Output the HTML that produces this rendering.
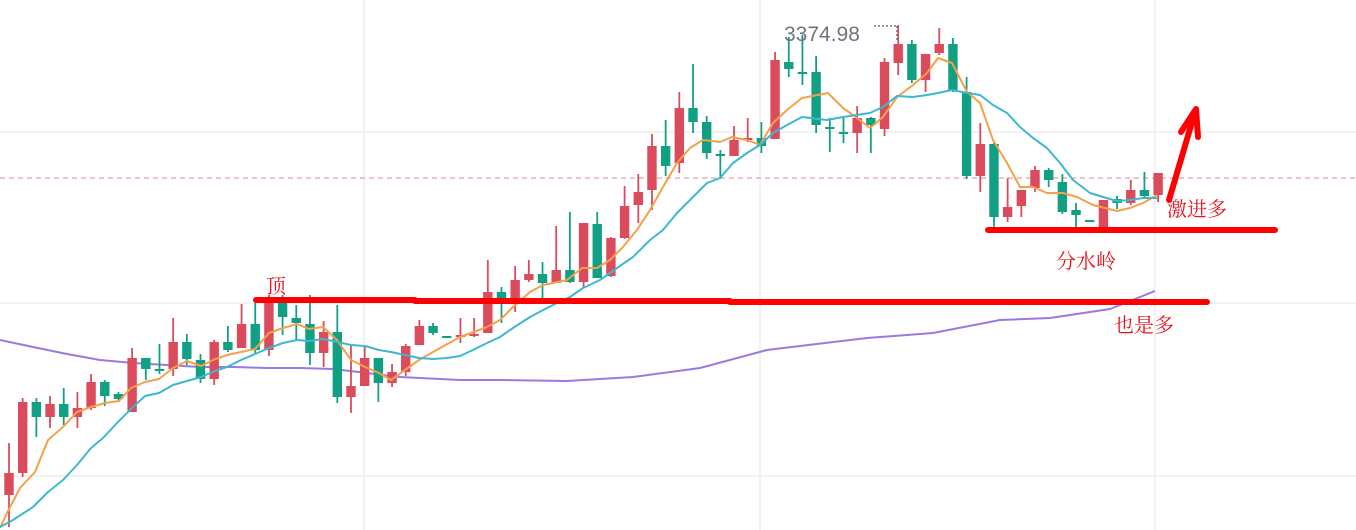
<!DOCTYPE html>
<html><head><meta charset="utf-8"><style>
html,body{margin:0;padding:0;background:#fff;}
svg{display:block}
.t{font-family:"Noto Serif CJK SC","Liberation Serif",serif;fill:#e8101c;font-size:20px}
</style></head><body>
<svg id="s" width="1356" height="530" viewBox="0 0 1356 530" xmlns="http://www.w3.org/2000/svg">
<g stroke="#eeeef2" stroke-width="1.5">
<line x1="0" y1="132" x2="1356" y2="132"/>
<line x1="0" y1="303" x2="1356" y2="303"/>
<line x1="0" y1="476" x2="1356" y2="476"/>
<line x1="364" y1="0" x2="364" y2="530"/>
<line x1="760" y1="0" x2="760" y2="530"/>
<line x1="1155" y1="0" x2="1155" y2="530"/>
</g>
<line x1="0" y1="178" x2="1356" y2="178" stroke="#d98a92" stroke-width="1" stroke-dasharray="5,4"/>
<polyline fill="none" stroke="#9b79e0" stroke-width="2" stroke-linejoin="round" points="0,340 33,347 67,354 100,360 133,363 167,365 200,367 233,367 267,368 300,368 333,369 367,373 400,377 460,380 500,380 567,381 633,377 700,368 767,350 800,346 867,338 933,333 1000,320 1050,318 1110,309 1155,291"/>
<g id="c"></g>
<polyline fill="none" stroke="#f5a04a" stroke-width="2" stroke-linejoin="round" points="0,528 7,513 20,488 35,472 48,440 63,427 77,412 91,407 105,403 119,401 131,388 145,382 159,379 173,368 187,361 201,366 213,360 227,355 241,352 255,349 269,333 283,328 297,324 309,329 323,327 337,340 351,360 365,367 379,373 391,380 405,370 419,360 433,352 460,337 487,327 500,320 513,307 530,292 543,285 567,280 582,268 597,268 610,260 623,247 637,230 650,210 663,187 677,163 690,148 703,140 720,142 732,137 747,140 760,145 773,123 787,110 802,98 828,93 843,108 857,118 870,128 883,117 897,97 913,85 927,73 938,58 952,63 967,92 980,103 993,140 1007,163 1020,187 1033,187 1047,193 1063,193 1077,197 1093,205 1117,211 1130,208 1143,203 1157,195"/>
<polyline fill="none" stroke="#3db8d0" stroke-width="2" stroke-linejoin="round" points="0,527 13,520 33,507 48,492 63,480 77,465 91,448 103,438 117,423 132,408 145,396 159,393 173,385 187,381 201,377 215,371 227,367 241,360 255,354 269,348 283,343 297,340 309,341 323,339 333,341 351,345 365,346 379,350 391,352 405,355 419,358 433,359 447,358 460,356 473,350 487,343 500,337 513,328 530,317 547,308 557,303 570,297 583,288 600,280 617,268 633,257 650,240 663,230 677,213 690,200 707,183 720,178 733,163 747,153 760,145 773,133 787,125 802,117 827,120 843,117 870,113 883,107 897,96 913,97 927,95 938,93 952,90 967,93 980,95 993,105 1007,113 1020,127 1033,138 1047,148 1060,163 1073,180 1090,193 1103,197 1117,201 1130,200 1143,198 1157,198"/>
<g stroke="#f00" stroke-width="6" stroke-linecap="round" fill="none">
<line x1="256" y1="300" x2="415" y2="300"/>
<line x1="415" y1="301" x2="730" y2="301"/>
<line x1="730" y1="302" x2="1207" y2="302"/>
<line x1="988" y1="230" x2="1275" y2="230"/>
<line x1="1169" y1="200" x2="1195" y2="112"/>
<polyline points="1181,132 1196,109 1198,137" stroke-linejoin="round"/>
</g>
<text class="t" x="266" y="293">顶</text>
<text class="t" x="1056" y="268">分水岭</text>
<text class="t" x="1167" y="216">激进多</text>
<text class="t" x="1114" y="332">也是多</text>
<text x="784" y="41" font-family="Liberation Sans, sans-serif" font-size="21" fill="#6e7480">3374.98</text>
<line x1="874" y1="26" x2="898" y2="26" stroke="#6e7480" stroke-width="1.5" stroke-dasharray="2,2"/>
<line x1="897" y1="26" x2="897" y2="40" stroke="#6e7480" stroke-width="1.5" stroke-dasharray="2,2"/>
</svg>
<script>
var R='#dc4b5b',G='#12a085';
var d=[
[473,495,443,527,R],[402,473,398,477,R],[402,417,398,437,G],[404,417,396,428,R],[404,417,388,425,G],[408,417,392,428,R],[382,408,374,410,R],[382,396,380,406,G],[394,399,392,400,G],[358,412,348,412,R],
[358,369,358,380,G],[369,371,344,374,G],[342,369,318,376,R],[342,359,334,365,G],[360,379,354,383,G],[342,379,340,385,R],[342,350,326,352,G],[324,348,304,348,R],[324,350,303,354,G],[303,350,295,356,R],
[303,317,295,335,G],[318,323,305,341,G],[324,353,295,365,G],[332,353,321,367,R],[332,397,305,403,G],[386,397,345,413,R],[358,386,347,386,R],[358,383,358,402,G],[372,383,364,387,R],[346,372,344,376,R],
[326,345,320,345,R],[326,333,323,335,G],[336,338,336,338,G],[335,337,318,343,R],[334,336,318,337,R],[292,333,260,333,R],[292,298,287,323,G],[280,298,266,312,R],[274,280,260,282,R],[274,283,262,298,G],
[270,283,226,283,R],[270,282,212,283,G],[223,282,223,287,R],[224,278,212,278,G],[238,276,237,277,R],[206,238,186,239,R],[192,205,174,223,R],[146,190,134,210,R],[146,166,120,176,G],[108,163,92,173,R],
[108,122,64,133,G],[122,153,116,159,G],[154,156,150,179,G],[140,156,126,156,R],[138,140,118,142,R],[138,146,122,153,G],[60,139,52,139,R],[62,69,37,77,G],[72,73,35,85,G],[72,125,56,133,G],
[127,128,118,152,G],[132,133,118,143,G],[118,133,106,153,R],[118,125,117,153,G],[62,129,58,136,R],[44,63,25,75,R],[44,80,40,83,G],[54,80,54,92,R],[44,53,28,55,R],[44,90,38,92,G],
[92,176,77,179,G],[144,176,123,192,R],[144,217,143,228,G],[207,217,178,222,R],[190,206,190,217,R],[170,188,166,192,R],[170,180,168,187,G],[182,212,174,214,G],[210,215,203,227,G],[220,221,220,221,G],
[200,227,200,230,R],[199,203,196,209,G],[190,203,180,205,R],[190,196,172,197,G],[173,195,173,202,R]];
var s='';
d.forEach(function(c,i){var x=9+i*13.68;var h=Math.max(c[1]-c[0],2);
s+='<line x1="'+x+'" y1="'+c[2]+'" x2="'+x+'" y2="'+c[3]+'" stroke="'+c[4]+'" stroke-width="1.8"/>';
s+='<rect x="'+(x-4.7)+'" y="'+c[0]+'" width="9.4" height="'+h+'" fill="'+c[4]+'"/>';});
document.getElementById('c').innerHTML=s;
</script>
</body></html>
